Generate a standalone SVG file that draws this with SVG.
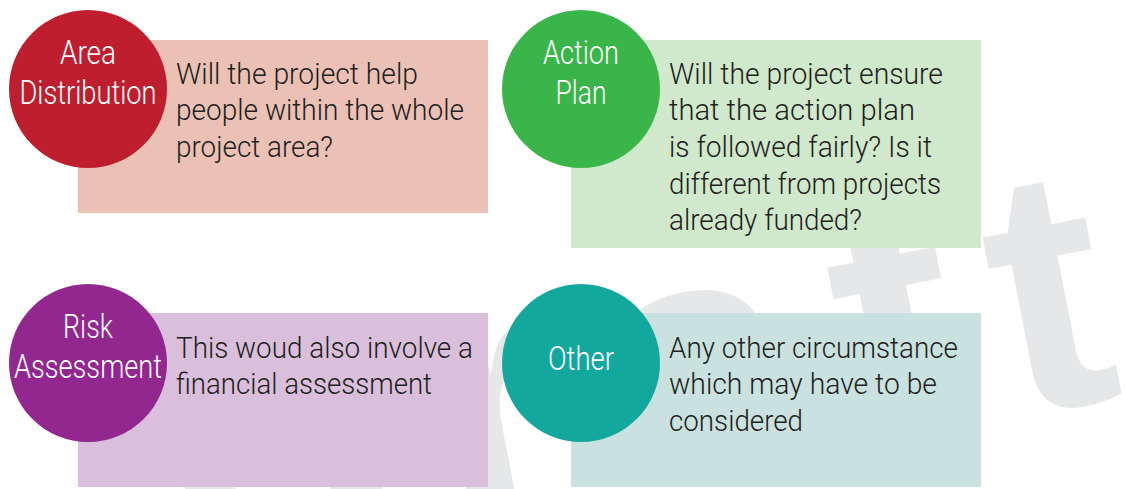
<svg xmlns="http://www.w3.org/2000/svg" width="1125" height="489" viewBox="0 0 1125 489">
<style>
  .wm { font-family: "Liberation Sans", Arial, sans-serif; font-weight: bold; font-size: 345px; fill: #e6e7e8; }
  .lbl { font-family: Roboto, "Liberation Sans", Arial, sans-serif; font-weight: 300; font-size: 33px; fill: #ffffff; text-anchor: middle; }
  .body { font-family: Roboto, "Liberation Sans", Arial, sans-serif; font-weight: 300; font-size: 30px; fill: #231f20; }
</style>
<rect x="0" y="0" width="1125" height="489" fill="#ffffff"/>
<g id="watermark" transform="rotate(-11 800 420)">
  <text class="wm" x="160 435 614 850 1010" y="458">Draft</text>
</g>
<g id="connectors"/>
<g id="area-distribution">
  <rect x="78" y="40" width="410" height="173" fill="#eac1b4"/>
  <circle cx="88" cy="89" r="79" fill="#be1e2d"/>
  <text class="lbl" x="88" y="64" textLength="56" lengthAdjust="spacingAndGlyphs">Area</text>
  <text class="lbl" x="88" y="104" textLength="137" lengthAdjust="spacingAndGlyphs">Distribution</text>
  <text class="body" x="176" y="84" textLength="242" lengthAdjust="spacingAndGlyphs">Will the project help</text>
  <text class="body" x="176" y="120" textLength="288" lengthAdjust="spacingAndGlyphs">people within the whole</text>
  <text class="body" x="176" y="157" textLength="157" lengthAdjust="spacingAndGlyphs">project area?</text>
</g>
<g id="action-plan">
  <rect x="571" y="40" width="410" height="208" fill="#d0e8cc"/>
  <circle cx="581" cy="89" r="79" fill="#39b54a"/>
  <text class="lbl" x="581" y="64" textLength="76" lengthAdjust="spacingAndGlyphs">Action</text>
  <text class="lbl" x="581" y="104" textLength="51" lengthAdjust="spacingAndGlyphs">Plan</text>
  <text class="body" x="669" y="84" textLength="274" lengthAdjust="spacingAndGlyphs">Will the project ensure</text>
  <text class="body" x="669" y="120" textLength="246" lengthAdjust="spacingAndGlyphs">that the action plan</text>
  <text class="body" x="669" y="157" textLength="263" lengthAdjust="spacingAndGlyphs">is followed fairly? Is it</text>
  <text class="body" x="669" y="194" textLength="272" lengthAdjust="spacingAndGlyphs">different from projects</text>
  <text class="body" x="669" y="230" textLength="193" lengthAdjust="spacingAndGlyphs">already funded?</text>
</g>
<g id="risk-assessment">
  <rect x="78" y="313" width="410" height="174" fill="#d9bfdc"/>
  <circle cx="88" cy="363" r="79" fill="#92278f"/>
  <text class="lbl" x="88" y="338" textLength="50" lengthAdjust="spacingAndGlyphs">Risk</text>
  <text class="lbl" x="88" y="378" textLength="148" lengthAdjust="spacingAndGlyphs">Assessment</text>
  <text class="body" x="176" y="358" textLength="297" lengthAdjust="spacingAndGlyphs">This woud also involve a</text>
  <text class="body" x="176" y="394" textLength="256" lengthAdjust="spacingAndGlyphs">financial assessment</text>
</g>
<g id="other">
  <rect x="571" y="313" width="410" height="174" fill="#c9e2df"/>
  <circle cx="581" cy="363" r="79" fill="#13a89e"/>
  <text class="lbl" x="581" y="370" textLength="66" lengthAdjust="spacingAndGlyphs">Other</text>
  <text class="body" x="669" y="358" textLength="289" lengthAdjust="spacingAndGlyphs">Any other circumstance</text>
  <text class="body" x="669" y="394" textLength="268" lengthAdjust="spacingAndGlyphs">which may have to be</text>
  <text class="body" x="669" y="431" textLength="134" lengthAdjust="spacingAndGlyphs">considered</text>
</g>
</svg>
